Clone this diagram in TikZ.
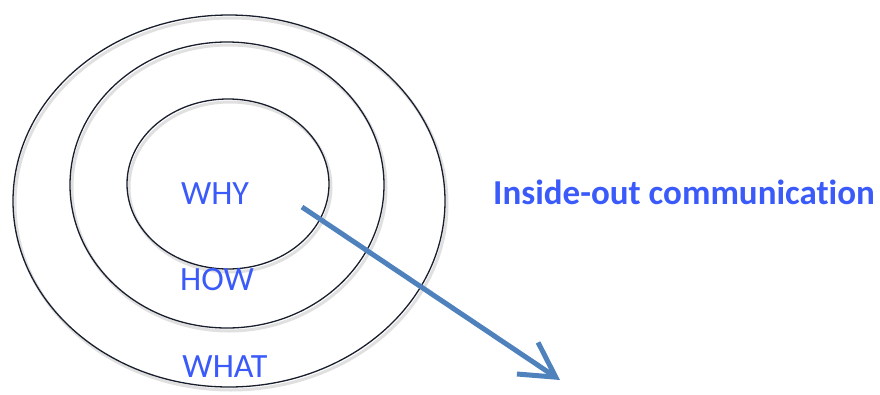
\documentclass[tikz,border=0pt]{standalone}
\usepackage{fontspec}
\setmainfont{Carlito}[Ligatures={NoCommon}]
\usetikzlibrary{shapes.geometric,arrows.meta}
\definecolor{txtblue}{RGB}{58,90,250}
\definecolor{arrblue}{RGB}{79,129,189}
\definecolor{ringcol}{RGB}{25,30,45}
\begin{document}
\begin{tikzpicture}[x=1pt,y=-1pt,
  ring/.style={draw=ringcol, line width=1.3pt, ellipse, inner sep=0pt},
  ringshadow/.style={draw=black!12, line width=3pt, ellipse, inner sep=0pt},
  lbl/.style={text=txtblue, font=\fontsize{34}{34}\selectfont, inner sep=0pt, anchor=base},
  title/.style={text=txtblue, font=\bfseries\fontsize{35}{35}\selectfont, inner sep=0pt, anchor=base},
  flow/.style={draw=arrblue, line width=5pt, -{Straight Barb[length=34pt,width=38pt,line width=5pt]}}]
\useasboundingbox (0,0) rectangle (880,394);
% shadows
\node[ringshadow, minimum width=432pt, minimum height=372pt] (outerS) at (231,204) {};
\node[ringshadow, minimum width=314pt, minimum height=286pt] (middleS) at (229,188) {};
\node[ringshadow, minimum width=202pt, minimum height=170pt] (innerS) at (230,187) {};
% rings
\node[ring, minimum width=432pt, minimum height=372pt] (outer) at (229,201) {};
\node[ring, minimum width=314pt, minimum height=286pt] (middle) at (227,185) {};
\node[ring, minimum width=202pt, minimum height=170pt] (inner) at (228,184) {};
% labels
\node[lbl] (why) at (215,204) {WHY};
\node[lbl] (how) at (217,290) {HOW};
\node[lbl] (what) at (225,377) {WHAT};
\node[title] (ttl) at (684,204) {Inside-out communication};
% arrow
\coordinate (from) at (302,207);
\coordinate (to) at (560,380);
\draw[flow] (from) -- (to);
\end{tikzpicture}
\end{document}
